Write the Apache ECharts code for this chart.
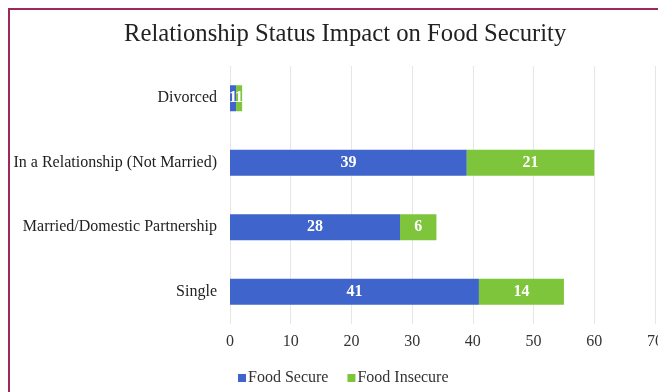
<!DOCTYPE html>
<html>
<head>
<meta charset="utf-8">
<script src="https://cdn.jsdelivr.net/npm/echarts@6/dist/echarts.min.js"></script>
<style>
  html, body { margin: 0; padding: 0; background: #fff; overflow: hidden; }
  #frame { position: absolute; left: 8px; top: 8px; width: 648px; height: 384px;
           border-left: 2px solid #9c2a58; border-top: 2px solid #9c2a58; }
  #chart { position: absolute; left: 0; top: 0; width: 658px; height: 392px; }
</style>
</head>
<body>
<div id="frame"></div>
<div id="chart"></div>
<script>
// Relationship status groups, listed bottom to top on the category axis
const categories = ['Single', 'Married/Domestic Partnership', 'In a Relationship (Not Married)', 'Divorced'];
const foodSecure = [41, 28, 39, 1];
const foodInsecure = [14, 6, 21, 1];
const valueTicks = [0, 10, 20, 30, 40, 50, 60, 70];

const chart = echarts.init(document.getElementById('chart'), null, { renderer: 'canvas' });
const serif = '"Liberation Serif", "DejaVu Serif", serif';

const barLabel = {
  show: true,
  position: 'inside',
  color: '#ffffff',
  fontFamily: serif,
  fontWeight: 'bold',
  fontSize: 16
};

chart.setOption({
  animation: false,
  backgroundColor: 'transparent',
  title: {
    text: 'Relationship Status Impact on Food Security',
    left: 119,
    top: 17,
    textStyle: { fontFamily: serif, fontWeight: 'normal', fontSize: 24.7, color: '#222' }
  },
  legend: {
    top: 365,
    left: 233,
    itemWidth: 8,
    itemHeight: 8,
    itemGap: 19,
    icon: 'rect',
    textStyle: { fontFamily: serif, fontSize: 16, color: '#333', padding: [0, 0, 0, -3] },
    data: ['Food Secure', 'Food Insecure']
  },
  grid: { left: 230, right: 3, top: 66, bottom: 68, outerBoundsMode: 'none', containLabel: false },
  xAxis: {
    type: 'value',
    min: valueTicks[0],
    max: valueTicks[valueTicks.length - 1],
    interval: 10,
    axisLine: { show: false },
    axisTick: { show: false },
    splitLine: { show: true, lineStyle: { color: '#e6e6e6', width: 1 } },
    axisLabel: { fontFamily: serif, fontSize: 16, color: '#333', margin: 10 }
  },
  yAxis: {
    type: 'category',
    data: categories,
    axisLine: { show: false },
    axisTick: { show: false },
    axisLabel: { fontFamily: serif, fontSize: 16, color: '#222', margin: 13 }
  },
  series: [
    {
      name: 'Food Secure',
      type: 'bar',
      stack: 'total',
      barWidth: 26,
      itemStyle: { color: '#3f64cb' },
      label: barLabel,
      data: foodSecure
    },
    {
      name: 'Food Insecure',
      type: 'bar',
      stack: 'total',
      barWidth: 26,
      itemStyle: { color: '#7ec53c' },
      label: barLabel,
      data: foodInsecure
    }
  ]
});
</script>
</body>
</html>
